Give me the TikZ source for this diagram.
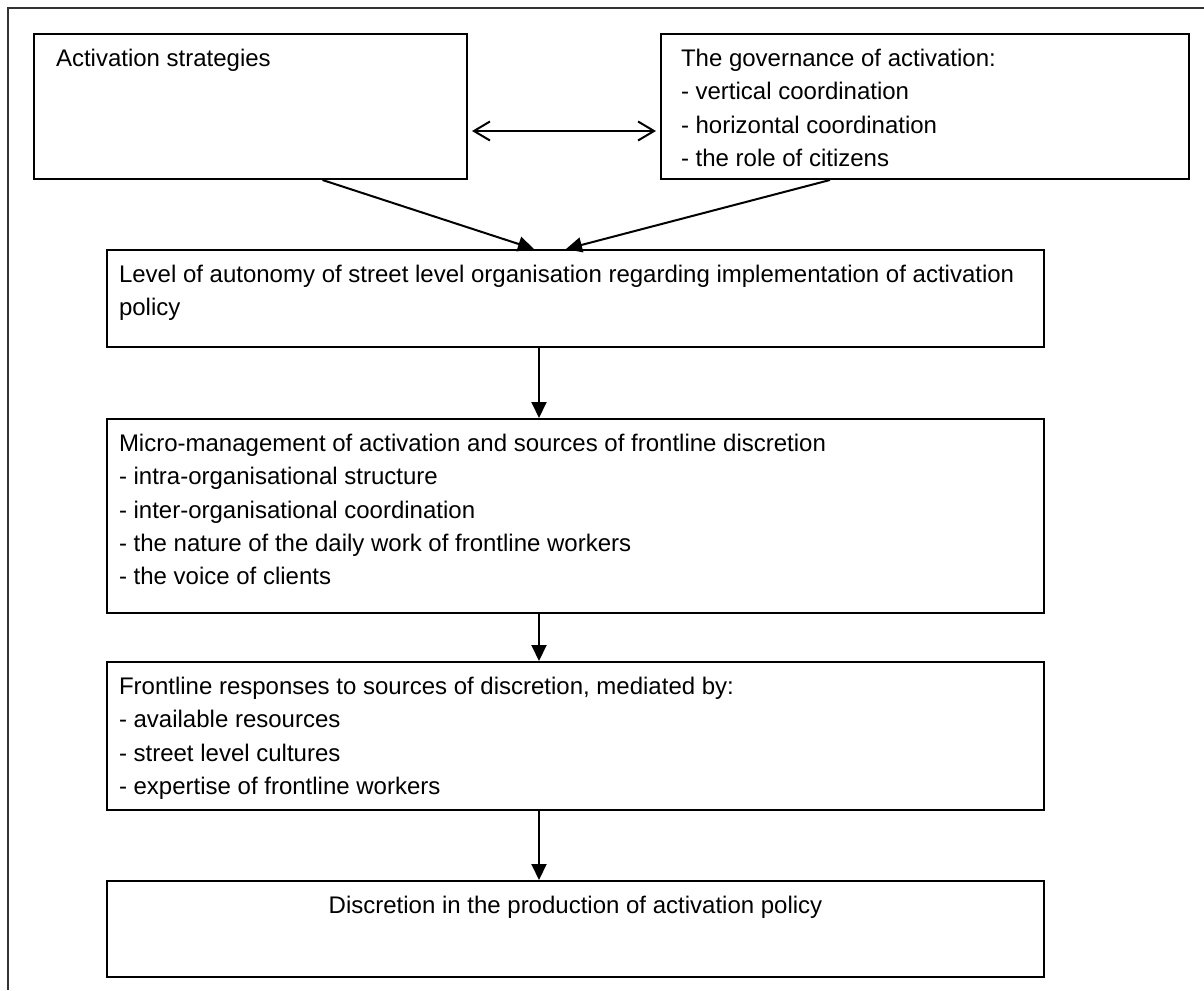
\documentclass[tikz,border=0pt]{standalone}
\usepackage{fontspec}
\setmainfont{Liberation Sans}
\usetikzlibrary{arrows.meta,positioning}
\tikzset{
  every node/.style={font=\fontsize{12pt}{16.6pt}\selectfont},
  box/.style 2 args={draw,line width=1pt,anchor=north west,inner xsep=6pt,inner ysep=7.7pt,
    execute at begin node={\begin{minipage}[t][#2][t]{#1}\raggedright},
    execute at end node={\end{minipage}}},
  arrow/.style={-{Triangle[length=8pt,width=7.5pt]},line width=1pt},
  both/.style={{Straight Barb[length=8pt,width=9.5pt]}-{Straight Barb[length=8pt,width=9.5pt]},line width=1pt},
  frame/.style={draw=black!80,line width=1pt},
}

\begin{document}
\begin{tikzpicture}
\useasboundingbox (0,0) rectangle (602pt,-495pt);
\draw[frame] (4pt,-495pt) -- (4pt,-4pt) -- (602pt,-4pt);

% --- top row
\node[box={194.5pt}{57.1pt},inner xsep=11pt] (strat) at (16.5pt,-16.5pt) {Activation strategies};
\node[box={244pt}{57.1pt},inner xsep=10pt,right=96pt of strat] (gov)
{The governance of activation:\\- vertical coordination\\- horizontal coordination\\- the role of citizens};
\draw[both] ([shift={(2pt,-12.25pt)}]strat.east) -- ([shift={(-2pt,-12.25pt)}]gov.west);

% --- chain
\node[box={456.5pt}{33.1pt}] (lvl) at (53pt,-124.5pt)
{Level of autonomy of street level organisation regarding implementation of activation\\policy};
\node[box={456.5pt}{81.6pt},below=35pt of lvl] (micro)
{Micro-management of activation and sources of frontline discretion\\- intra-organisational structure\\- inter-organisational coordination\\- the nature of the daily work of frontline workers\\- the voice of clients};
\node[box={456.5pt}{58.6pt},below=23.5pt of micro] (resp)
{Frontline responses to sources of discretion, mediated by:\\- available resources\\- street level cultures\\- expertise of frontline workers};
\node[box={456.5pt}{32.6pt},below=34.5pt of resp] (disc)
{\makebox[\linewidth][c]{Discretion in the production of activation policy}};

\draw[arrow] ([xshift=36pt]strat.south) -- ([xshift=-20.75pt]lvl.north);
\draw[arrow] ([xshift=-47.5pt]gov.south) -- ([xshift=-4.75pt]lvl.north);
\draw[arrow] ([xshift=-18.25pt]lvl.south) -- ([xshift=-18.25pt]micro.north);
\draw[arrow] ([xshift=-18.25pt]micro.south) -- ([xshift=-18.25pt]resp.north);
\draw[arrow] ([xshift=-18.25pt]resp.south) -- ([xshift=-18.25pt]disc.north);

\end{tikzpicture}
\end{document}
